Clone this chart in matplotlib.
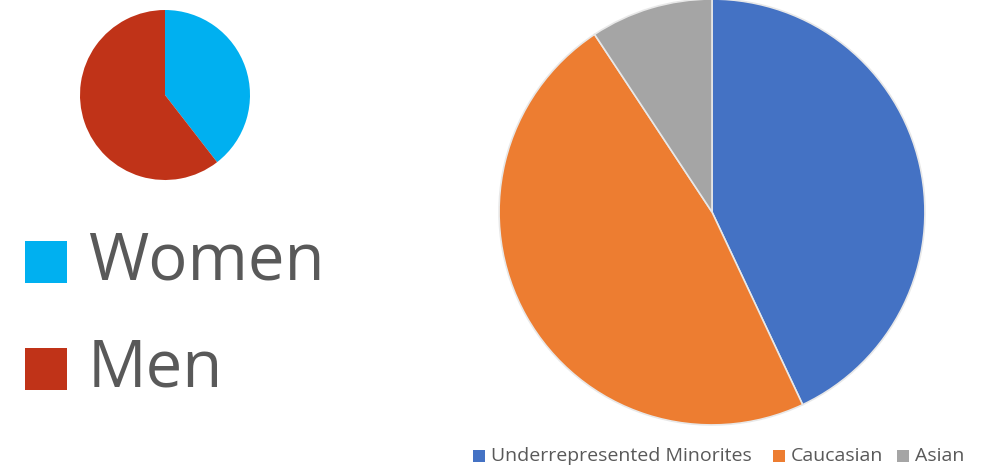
import matplotlib.pyplot as plt
from matplotlib.patches import Rectangle

# small pie: gender
gender_labels = ['Women', 'Men']
gender_values = [39.5, 60.5]
gender_colors = ['#00B0F0', '#C03318']

# big pie: ethnicity
eth_labels = ['Underrepresented Minorites', 'Caucasian', 'Asian']
eth_values = [43.0, 47.7, 9.3]
eth_colors = ['#4472C4', '#ED7D31', '#A5A5A5']

W, H = 987, 465
fig = plt.figure(figsize=(W / 100, H / 100), dpi=100)
fig.patch.set_facecolor('white')

ax1 = fig.add_axes([80 / W, (H - 180) / H, 170 / W, 170 / H])
ax1.pie(gender_values, colors=gender_colors, startangle=90, counterclock=False,
        wedgeprops=dict(linewidth=0))
ax1.set_xlim(-1, 1)
ax1.set_ylim(-1, 1)
ax1.set_aspect('equal')

ax2 = fig.add_axes([498 / W, 39 / H, 428 / W, 428 / H])
ax2.pie(eth_values, colors=eth_colors, startangle=90, counterclock=False,
        wedgeprops=dict(linewidth=1.2, edgecolor='#E8E8E8'))
ax2.set_xlim(-1.005, 1.005)
ax2.set_ylim(-1.005, 1.005)
ax2.set_aspect('equal')

# left legend
rows_y = [262, 369]
for lab, col, yc in zip(gender_labels, gender_colors, rows_y):
    fig.patches.append(Rectangle((25 / W, (H - yc - 21) / H), 42 / W, 42 / H,
                                 transform=fig.transFigure, facecolor=col,
                                 edgecolor='none'))
    fig.text(88 / W, (H - yc) / H, lab, fontsize=47, color='#595959',
             family='Open Sans', va='center', ha='left')

# bottom legend
xs = [473, 773, 897]
yc = 456
for lab, col, x in zip(eth_labels, eth_colors, xs):
    fig.patches.append(Rectangle((x / W, (H - yc - 6) / H), 12 / W, 12 / H,
                                 transform=fig.transFigure, facecolor=col,
                                 edgecolor='none'))
    fig.text((x + 18) / W, (H - yc) / H, lab, fontsize=14, color='#595959',
             family='Open Sans', va='center', ha='left')

fig.savefig('out.png', dpi=100)
